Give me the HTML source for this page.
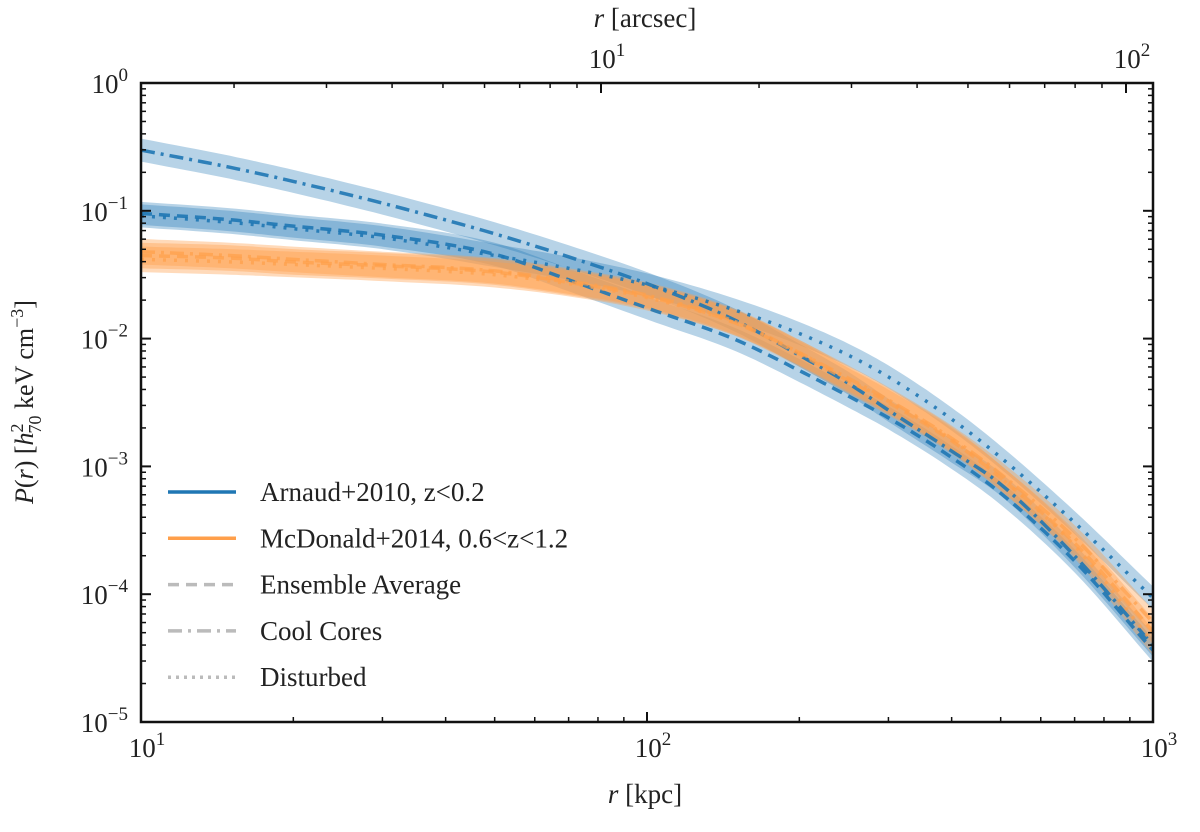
<!DOCTYPE html>
<html><head><meta charset="utf-8"><style>
body{margin:0;background:#fff;}
svg text{font-family:"Liberation Serif","DejaVu Serif",serif;fill:#222;}
</style></head><body>
<svg id="chart" width="1200" height="827" viewBox="0 0 1200 827" xmlns="http://www.w3.org/2000/svg">
<defs><clipPath id="clip"><rect x="141" y="83" width="1012" height="639"/></clipPath></defs>
<g id="bands" clip-path="url(#clip)"></g>
<g id="lines" clip-path="url(#clip)"></g>
<g id="axes"></g>
<g id="legend"></g>
</svg>
<script>
const radii = [10,15,20,30,50,70,100,150,200,250,300,400,500,700,1000];
const blueCC = [-0.525,-0.66,-0.77,-0.94,-1.18,-1.36,-1.57,-1.86,-2.13,-2.35,-2.56,-2.88,-3.14,-3.70,-4.40];
const blueAvg = [-1.02,-1.07,-1.12,-1.19,-1.34,-1.54,-1.76,-2.01,-2.25,-2.45,-2.62,-2.93,-3.21,-3.74,-4.44];
const blueDist = [-1.04,-1.09,-1.14,-1.21,-1.35,-1.45,-1.58,-1.78,-1.96,-2.13,-2.30,-2.63,-2.93,-3.44,-4.03];
const orangeCC = [-1.32,-1.35,-1.38,-1.42,-1.47,-1.55,-1.66,-1.87,-2.11,-2.31,-2.48,-2.78,-3.06,-3.56,-4.22];
const orangeAvg = [-1.35,-1.37,-1.40,-1.43,-1.48,-1.56,-1.67,-1.88,-2.12,-2.33,-2.50,-2.80,-3.09,-3.60,-4.29];
const orangeDist = [-1.38,-1.40,-1.42,-1.45,-1.50,-1.57,-1.68,-1.88,-2.11,-2.32,-2.49,-2.79,-3.09,-3.62,-4.38];
const bandHalfDex = [0.09,0.09,0.09,0.1,0.1,0.1];
const yTickExps = [0,-1,-2,-3,-4,-5];
const xTickExps = [1,2,3];
const topTickExps = [1,2];
const legendLabels = ["Arnaud+2010, z<0.2","McDonald+2014, 0.6<z<1.2","Ensemble Average","Cool Cores","Disturbed"];

const L=141,R=1153,T=83,B=722;
const xs = r => L + (Math.log10(r)-1)/2*(R-L);
const ys = lp => T + (0-lp)/5*(B-T);
const xa = a => 601 + 525*(Math.log10(a)-1);
const NS="http://www.w3.org/2000/svg";
function mk(tag,attrs,parent){const e=document.createElementNS(NS,tag);for(const k in attrs)e.setAttribute(k,attrs[k]);parent.appendChild(e);return e;}
function smoothPts(vals,off){
  const p=radii.map((r,i)=>[xs(r),ys(vals[i]+off)]);
  const n=p.length,m=[];
  for(let i=0;i<n;i++){
    if(i===0)m.push((p[1][1]-p[0][1])/(p[1][0]-p[0][0]));
    else if(i===n-1)m.push((p[n-1][1]-p[n-2][1])/(p[n-1][0]-p[n-2][0]));
    else{const a=(p[i][1]-p[i-1][1])/(p[i][0]-p[i-1][0]),b=(p[i+1][1]-p[i][1])/(p[i+1][0]-p[i][0]);m.push((a+b)/2);}
  }
  const out=[];
  for(let i=0;i<n-1;i++){
    const h=p[i+1][0]-p[i][0];
    for(let t=0;t<1;t+=0.1){
      const t2=t*t,t3=t2*t;
      const y=(2*t3-3*t2+1)*p[i][1]+(t3-2*t2+t)*h*m[i]+(-2*t3+3*t2)*p[i+1][1]+(t3-t2)*h*m[i+1];
      out.push([p[i][0]+t*h,y]);
    }
  }
  out.push(p[n-1]);return out;
}
const series=[
 {v:blueCC,c:"#1f77b4",d:"14 6 3 6",n:"arnaud-cool-cores"},
 {v:blueAvg,c:"#1f77b4",d:"11 7",n:"arnaud-ensemble-average"},
 {v:blueDist,c:"#1f77b4",d:"3 8",n:"arnaud-disturbed"},
 {v:orangeCC,c:"#ff9f4a",d:"14 6 3 6",n:"mcdonald-cool-cores"},
 {v:orangeAvg,c:"#ff9f4a",d:"11 7",n:"mcdonald-ensemble-average"},
 {v:orangeDist,c:"#ff9f4a",d:"3 8",n:"mcdonald-disturbed"}];
const bands=document.getElementById('bands'),lines=document.getElementById('lines');
series.forEach((s,i)=>{
  const up=smoothPts(s.v,bandHalfDex[i]),lo=smoothPts(s.v,-bandHalfDex[i]).reverse();
  const bp=mk('path',{d:'M'+up.concat(lo).map(p=>p[0].toFixed(1)+','+p[1].toFixed(1)).join('L')+'Z',fill:s.c,'fill-opacity':i<3?0.32:0.38},bands);
  
  
});
series.forEach((s,i)=>{
  const pts=smoothPts(s.v,0);
  const lp=mk('path',{d:'M'+pts.map(p=>p[0].toFixed(1)+','+p[1].toFixed(1)).join('L'),fill:'none',stroke:s.c,'stroke-width':3.5,'stroke-dasharray':s.d,'stroke-opacity':i<3?0.9:0.7},lines);
  
  
});
const ax=document.getElementById('axes');
mk('rect',{x:L,y:T,width:R-L,height:B-T,fill:'none',stroke:'#111','stroke-width':2.5},ax);
yTickExps.forEach(e=>{
  const y=ys(e);
  mk('line',{x1:L,x2:L+10,y1:y,y2:y,stroke:'#111','stroke-width':2},ax);
  mk('line',{x1:R,x2:R-10,y1:y,y2:y,stroke:'#111','stroke-width':2},ax);
  const t=mk('text',{x:128,y:y+10,'text-anchor':'end','font-size':27},ax);
  
  
  t.innerHTML='10<tspan dy="-12" font-size="19">'+(e<0?'\u2212'+(-e):e)+'</tspan>';
  if(e>-5)for(let k=2;k<10;k++){const yy=ys(e-1+Math.log10(k));
    mk('line',{x1:L,x2:L+5,y1:yy,y2:yy,stroke:'#111','stroke-width':1.5},ax);
    mk('line',{x1:R,x2:R-5,y1:yy,y2:yy,stroke:'#111','stroke-width':1.5},ax);}
});
xTickExps.forEach(e=>{
  const x=xs(Math.pow(10,e));
  mk('line',{x1:x,x2:x,y1:B,y2:B-10,stroke:'#111','stroke-width':2},ax);
  const t=mk('text',{x:x+6,y:757,'text-anchor':'middle','font-size':27},ax);
  
  
  t.innerHTML='10<tspan dy="-12" font-size="19">'+e+'</tspan>';
  if(e<3)for(let k=2;k<10;k++){const xx=xs(k*Math.pow(10,e));mk('line',{x1:xx,x2:xx,y1:B,y2:B-5,stroke:'#111','stroke-width':1.5},ax);}
});
topTickExps.forEach(e=>{
  const x=xa(Math.pow(10,e));
  mk('line',{x1:x,x2:x,y1:T,y2:T+10,stroke:'#111','stroke-width':2},ax);
  const t=mk('text',{x:x+6,y:68,'text-anchor':'middle','font-size':27},ax);
  
  
  t.innerHTML='10<tspan dy="-12" font-size="19">'+e+'</tspan>';
});
for(let a=2;a<100;a+=(a<10?1:10)){if(a===10)continue;const x=xa(a);if(x>L&&x<R)mk('line',{x1:x,x2:x,y1:T,y2:T+5,stroke:'#111','stroke-width':1.5},ax);}
const xt=mk('text',{x:645,y:803,'text-anchor':'middle','font-size':27},ax);

xt.innerHTML='<tspan font-style="italic">r</tspan> [kpc]';
const tt=mk('text',{x:645,y:27,'text-anchor':'middle','font-size':27},ax);

tt.innerHTML='<tspan font-style="italic">r</tspan> [arcsec]';
const yt=mk('text',{x:0,y:0,'text-anchor':'middle','font-size':26,transform:'translate(33,402) rotate(-90)'},ax);

yt.innerHTML='<tspan font-style="italic">P</tspan>(<tspan font-style="italic">r</tspan>)  [<tspan font-style="italic">h</tspan><tspan dy="-10" font-size="18">2</tspan><tspan dy="18" dx="-10" font-size="18">70</tspan><tspan dy="-8"> keV cm</tspan><tspan dy="-10" font-size="18">\u22123</tspan><tspan dy="10">]</tspan>';
const lg=document.getElementById('legend');
const lgStyles=[{c:"#1f77b4",d:"none"},{c:"#ff9f4a",d:"none"},{c:"#bbb",d:"11 7"},{c:"#bbb",d:"14 6 3 6"},{c:"#bbb",d:"3 5"}];
legendLabels.forEach((lab,i)=>{
  const y=492+i*46.3;
  const g=mk('g',{},lg);
  
  
  mk('line',{x1:168,x2:236,y1:y,y2:y,stroke:lgStyles[i].c,'stroke-width':3.5,'stroke-dasharray':lgStyles[i].d},g);
  const t=mk('text',{x:260,y:y+9,'font-size':27},g);
  t.textContent=lab;
});
</script>
</body></html>
